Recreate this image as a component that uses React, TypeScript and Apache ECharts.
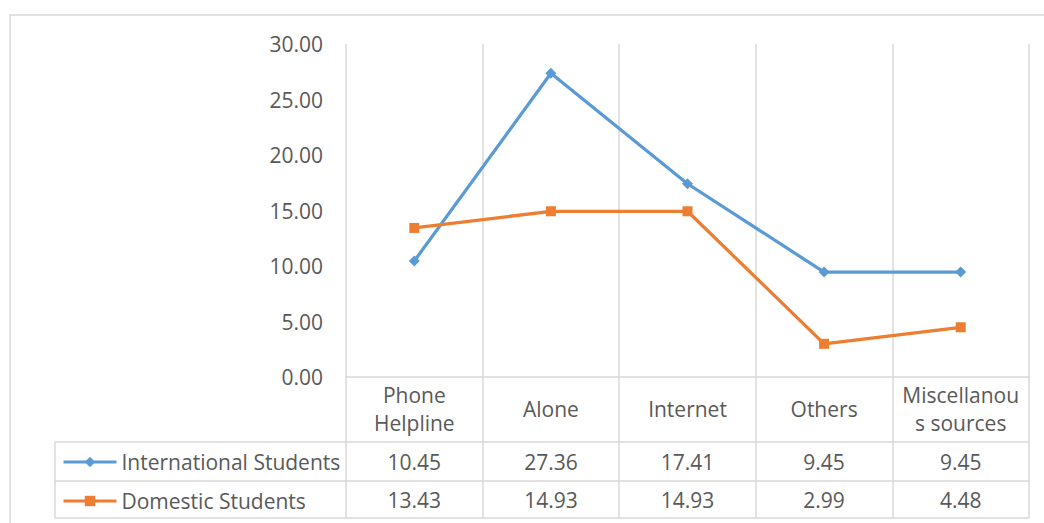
import React, { useEffect, useRef } from "react";
import * as echarts from "echarts";

const categories = ["Phone\nHelpline", "Alone", "Internet", "Others", "Miscellanou\ns sources"];
const seriesNames = ["International Students", "Domestic Students"];
const international = [10.45, 27.36, 17.41, 9.45, 9.45];
const domestic = [13.43, 14.93, 14.93, 2.99, 4.48];
const yMin = 0;
const yMax = 30;
const yStep = 5;

const FONT = "'Open Sans', 'Noto Sans', sans-serif";
const TXT = "#595959";
const GRID = "#d9d9d9";
const FS = 21;

export default function App() {
  const ref = useRef<HTMLDivElement>(null);
  useEffect(() => {
    if (!ref.current) return;
    const chart = echarts.init(ref.current, undefined, { renderer: "svg" });
    const gridLeft = 346;
    const gridRight = 1044 - 1029;
    const gridTop = 44;
    const gridBottom = 523 - 377;
    const tableLeft = 55;
    const tableRight = 1029;
    const rowLines = [442, 481, 518];
    const valueAxis = (vals: number[], margin: number) => ({
      type: "category",
      gridIndex: 0,
      position: "bottom",
      data: categories,
      boundaryGap: true,
      axisLine: { show: false },
      axisTick: { show: false },
      splitLine: { show: false },
      axisLabel: {
        interval: 0,
        margin,
        verticalAlign: "middle",
        color: TXT,
        fontSize: FS,
        fontFamily: FONT,
        formatter: (_v: string, i: number) => vals[i].toFixed(2),
      },
    });
    chart.setOption({
      animation: false,
      backgroundColor: "#ffffff",
      textStyle: { fontFamily: FONT },
      grid: { left: gridLeft, right: gridRight, top: gridTop, bottom: gridBottom, containLabel: false },
      legend: {
        orient: "vertical",
        left: 62,
        top: 451.5,
        padding: 0,
        itemWidth: 53,
        itemHeight: 13,
        itemGap: 18,
        lineStyle: { width: 3 },
        textStyle: { color: TXT, fontSize: FS, fontFamily: FONT, lineHeight: 20 },
        data: seriesNames,
      },
      xAxis: [
        {
          type: "category",
          data: categories,
          boundaryGap: true,
          axisLine: { show: true, lineStyle: { color: GRID, width: 1.5 } },
          axisTick: { show: true, interval: 0, length: 141, lineStyle: { color: GRID, width: 1.5 } },
          splitLine: { show: true, interval: 0, lineStyle: { color: GRID, width: 1.5 } },
          axisLabel: {
            interval: 0,
            margin: 32,
            verticalAlign: "middle",
            color: TXT,
            fontSize: FS,
            fontFamily: FONT,
            lineHeight: 28,
          },
        },
        valueAxis(international, 84.5),
        valueAxis(domestic, 122.5),
      ],
      yAxis: {
        type: "value",
        min: yMin,
        max: yMax,
        interval: yStep,
        axisLine: { show: false },
        axisTick: { show: false },
        splitLine: { show: false },
        axisLabel: {
          margin: 23,
          color: TXT,
          fontSize: FS,
          fontFamily: FONT,
          formatter: (v: number) => v.toFixed(2),
        },
      },
      series: [
        {
          name: seriesNames[0],
          type: "line",
          data: international,
          symbol: "diamond",
          symbolSize: 11,
          color: "#5B9BD5",
          lineStyle: { width: 3.25, color: "#5B9BD5" },
          itemStyle: { color: "#5B9BD5" },
        },
        {
          name: seriesNames[1],
          type: "line",
          data: domestic,
          symbol: "rect",
          symbolSize: 10,
          color: "#ED7D31",
          lineStyle: { width: 3.25, color: "#ED7D31" },
          itemStyle: { color: "#ED7D31" },
        },
      ],
      graphic: [
        {
          type: "rect",
          shape: { x: 10, y: 15, width: 1200, height: 700 },
          style: { fill: "none", stroke: GRID, lineWidth: 1.5 },
          silent: true,
        },
        ...rowLines.map((y) => ({
          type: "line",
          shape: { x1: tableLeft, y1: y, x2: tableRight, y2: y },
          style: { stroke: GRID, lineWidth: 1.5 },
          silent: true,
        })),
        {
          type: "line",
          shape: { x1: tableLeft, y1: rowLines[0], x2: tableLeft, y2: rowLines[2] },
          style: { stroke: GRID, lineWidth: 1.5 },
          silent: true,
        },
      ],
    });
    return () => chart.dispose();
  }, []);
  return (
    <div
      ref={ref}
      style={{ position: "fixed", left: 0, top: 0, width: 1044, height: 523, background: "#fff" }}
    />
  );
}
